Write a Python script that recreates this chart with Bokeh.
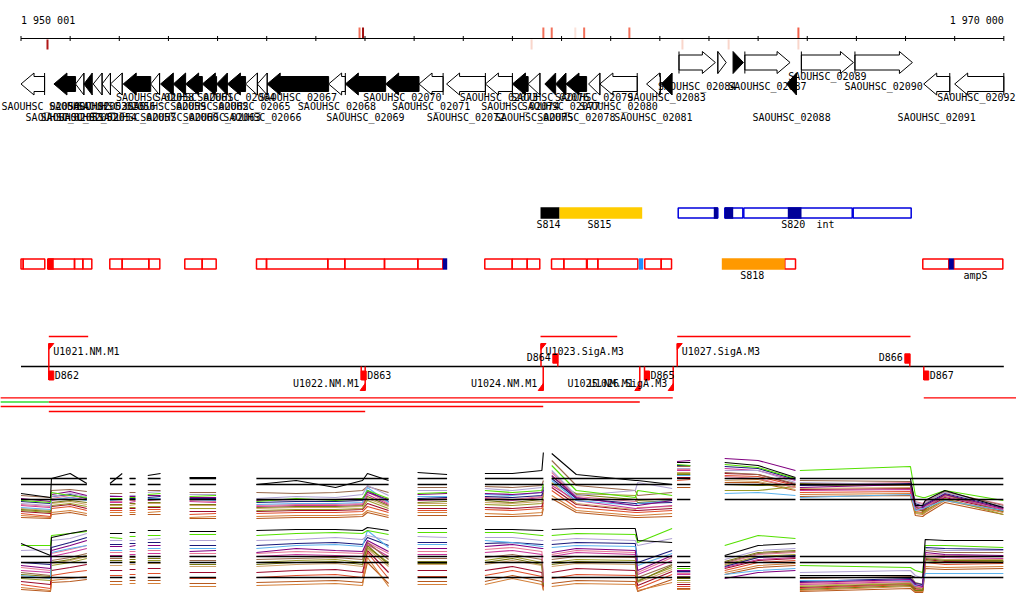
import math
from bokeh.plotting import figure
from bokeh.models import Range1d
from bokeh.core.properties import value
from bokeh.embed import file_html
from bokeh.resources import INLINE

# ---------------- data (positions in kb after 1 950 000) ----------------
ruler_ticks_kb = list(range(0, 21))
ruler_label_text = ["1 950 001", "1 970 000"]
ruler_label_kb = [0, 20]

axis_mark_kb = [0.539, 6.889, 6.960, 10.390, 10.630, 10.800, 11.280, 11.460, 12.380, 13.460, 14.400, 15.820, 15.820]
axis_mark_side = ["below", "above", "above", "below", "above", "above", "above", "above", "above", "below", "below", "above", "below"]
axis_mark_color = ["#B01818", "#F2705A", "#A01010", "#F9D6CB", "#F2705A", "#F2705A", "#FBE2DA", "#F2705A",
                   "#F2705A", "#F9D6CB", "#F9D6CB", "#F2604A", "#F9D6CB"]

gene_start_kb = [0.00, 0.67, 1.11, 1.28, 1.47, 1.65, 1.82, 2.08, 2.64, 2.84, 3.10, 3.35, 3.69, 3.98, 4.20, 4.57,
                 4.81, 5.01, 6.26, 6.60, 7.42, 8.10, 8.66, 9.45, 10.00, 10.32, 10.66, 10.88, 11.09, 11.55, 11.78,
                 12.73, 13.03, 13.39, 14.18, 14.49, 14.73, 15.58, 15.88, 16.97, 18.37, 19.00]
gene_end_kb = [0.48, 1.11, 1.28, 1.45, 1.65, 1.82, 2.06, 2.64, 2.82, 3.10, 3.35, 3.69, 3.98, 4.20, 4.57, 4.81,
               5.01, 6.26, 6.60, 7.42, 8.10, 8.59, 9.45, 10.00, 10.32, 10.56, 10.88, 11.09, 11.51, 11.78, 12.54,
               13.01, 13.25, 14.13, 14.35, 14.70, 15.65, 15.78, 16.94, 18.14, 18.90, 20.00]
gene_strand = [-1] * 33 + [1, 1, 1, 1, -1, 1, 1, -1, -1]
gene_filled = [0, 1, 0, 1, 0, 0, 0, 1, 0, 1, 1, 1, 1, 1, 1, 0, 0, 1, 0, 1, 1, 0, 0, 0, 1, 0, 1, 1, 1, 0, 0,
               0, 1, 0, 0, 1, 0, 1, 0, 0, 0, 0]
gene_label = ["SAOUHSC_02050", "SAOUHSC_02051", "SAOUHSC_02052", "SAOUHSC_02053", "SAOUHSC_02054",
              "SAOUHSC_02055", "SAOUHSC_02056", "SAOUHSC_02057", "SAOUHSC_02058", "SAOUHSC_02059",
              "SAOUHSC_02060", "SAOUHSC_02061", "SAOUHSC_02062", "SAOUHSC_02063", "SAOUHSC_02064",
              "SAOUHSC_02065", "SAOUHSC_02066", "SAOUHSC_02067", "SAOUHSC_02068", "SAOUHSC_02069",
              "SAOUHSC_02070", "SAOUHSC_02071", "SAOUHSC_02072", "SAOUHSC_02073", "SAOUHSC_02074",
              "SAOUHSC_02075", "SAOUHSC_02076", "SAOUHSC_02077", "SAOUHSC_02078", "SAOUHSC_02079",
              "SAOUHSC_02080", "SAOUHSC_02081", "SAOUHSC_02083", "SAOUHSC_02084", "", "",
              "SAOUHSC_02087", "SAOUHSC_02088", "SAOUHSC_02089", "SAOUHSC_02090", "SAOUHSC_02091",
              "SAOUHSC_02092"]
gene_label_row = [1, 2, 2, 1, 2, 1, 1, 2, 0, 1, 2, 0, 1, 2, 0, 1, 2, 0, 1, 2, 0, 1, 2, 0, 1, 2, 0, 1, 2, 0, 1,
                  2, 0, 4, 3, 3, 4, 2, 3, 4, 2, 0]

# region track 1
reg1_fill_left = [10.572, 10.959, 14.098, 14.322, 15.604]
reg1_fill_right = [10.959, 12.641, 14.180, 14.493, 15.883]
reg1_fill_color = ["#000000", "#FFCC00", "#000099", "#000099", "#000099"]
reg1_box_left = [13.374, 14.322, 14.709, 16.935]
reg1_box_right = [14.180, 14.689, 16.915, 18.115]
reg1_label = ["S814", "S815", "S820", "int"]
reg1_label_kb = [10.735, 11.772, 15.714, 16.372]

# region track 2
reg2_box_left = [0.0, 0.045, 0.545, 1.089, 1.258, 1.807, 2.059, 2.601, 3.333, 3.687, 4.792, 4.996, 6.243, 6.589,
                 7.397, 8.075, 9.438, 9.996, 10.301, 10.796, 11.046, 11.522, 11.738, 12.694, 13.028, 15.543,
                 18.351, 18.982]
reg2_box_right = [0.045, 0.484, 1.089, 1.258, 1.441, 2.059, 2.601, 2.825, 3.687, 3.972, 4.996, 6.243, 6.589,
                  7.397, 8.075, 8.584, 9.996, 10.301, 10.557, 11.046, 11.508, 11.738, 12.552, 13.028, 13.238,
                  15.761, 18.880, 19.980]
reg2_fill_left = [0.545, 8.584, 12.572, 14.261, 18.880]
reg2_fill_right = [0.667, 8.673, 12.662, 15.543, 18.982]
reg2_fill_color = ["#FF0000", "#000099", "#1E90FF", "#FF9900", "#000099"]
reg2_label = ["S818", "ampS"]
reg2_label_kb = [14.880, 19.424]

# transcription start / end features
tss_names = ["U1021.NM.M1", "D862", "D863", "U1022.NM.M1", "U1023.SigA.M3", "U1024.NM.M1", "D864",
             "U1025.NM.M1", "D865", "U1026.SigA.M3", "U1027.SigA.M3", "D866", "D867"]
tss_kb = [0.566, 0.566, 6.923, 7.004, 10.582, 10.627, 10.924, 12.592, 12.688, 13.272, 13.354, 18.087, 18.371]
tss_kind = ["U+", "D-", "D-", "U-", "U+", "U-", "D+", "U-", "D-", "U-", "U+", "D+", "D-"]
utr_span_left = [0.566, 10.572, 13.354]
utr_span_right = [1.367, 12.133, 18.101]

cov_left = [-0.42, 18.371, -0.42, 0.566, -0.42, 0.566]
cov_right = [13.264, 20.26, 0.566, 12.592, 10.627, 7.004]
cov_level = [0, 0, 1, 1, 2, 3]
cov_color = ["#FF0000", "#FF0000", "#33DD33", "#FF0000", "#FF0000", "#FF0000"]

# expression traces (signal units), sampled inside the tiled segments
trace_segments_kb = [
    [0.0, 0.6, 0.62, 1.0, 1.34],
    [1.81, 2.06],
    [2.21, 2.33],
    [2.58, 2.84],
    [3.43, 3.97],
    [4.79, 5.6, 6.4, 6.95, 7.05, 7.48],
    [8.07, 8.67],
    [9.44, 10.0, 10.6, 10.63],
    [10.80, 11.3, 12.5, 12.55, 13.25],
    [13.35, 13.62],
    [14.32, 15.0, 15.76],
    [15.85, 18.1, 18.2, 18.35, 18.4, 18.8, 19.99],
]
upper_ref_levels = [42, 36, 21]
lower_ref_levels = [36, 30, 15]

up_black = [27, 23, 42, 47, 37, 37, 47, 42, 42, 45, 47, 43, 43, 36, 40, 33, 40, 47, 40, 48, 46, 47, 47, 50, 68,
            67, 46, 40, 40, 36, 58, 58, 58, 55, 43, 42, 42, 15, 15, 20, 30, 13]
up_green = [20, 18, 28, 25, 23, 22, 22, 23, 23, 26, 27, 24, 25, 19, 22, 20, 22, 30, 22, 27, 28, 30, 28, 30, 36,
            55, 30, 23, 30, 25, 56, 55, 56, 53, 42, 50, 54, 25, 23, 23, 30, 20]
up_lavender = [17, 15, 24, 27, 24, 25, 24, 25, 25, 28, 29, 26, 26, 22, 24, 23, 26, 35, 25, 30, 30, 32, 30, 33, 37,
               50, 25, 30, 38, 32, 52, 52, 50, 50, 38, 38, 36, 18, 16, 18, 28, 14]
up_lightblue = [13, 11, 21, 23, 20, 20, 21, 21, 21, 22, 22, 21, 20, 16, 17, 17, 18, 33, 18, 24, 24, 26, 25, 28, 33,
                40, 20, 15, 17, 20, 45, 45, 27, 28, 25, 23, 26, 10, 12, 13, 20, 10]
up_purple = [22, 19, 26, 29, 25, 24, 24, 24, 24, 25, 25, 23, 23, 20, 21, 21, 22, 28, 21, 26, 27, 27, 26, 28, 34,
             45, 23, 15, 15, 20, 59, 60, 62, 60, 50, 33, 36, 14, 13, 15, 26, 12]
up_magenta = [15, 13, 20, 23, 21, 18, 18, 18, 19, 20, 21, 19, 18, 14, 15, 15, 16, 26, 16, 20, 21, 22, 20, 23, 30,
              35, 20, 12, 12, 15, 50, 50, 52, 50, 40, 30, 31, 12, 11, 13, 24, 11]
up_olive = [10, 8, 15, 17, 14, 13, 13, 13, 13, 14, 14, 12, 12, 10, 11, 11, 12, 20, 12, 15, 15, 16, 15, 17, 25,
            37, 27, 25, 20, 22, 47, 47, 30, 30, 34, 35, 35, 8, 7, 9, 22, 6]
up_brown = [25, 23, 30, 31, 29, 27, 27, 28, 28, 30, 30, 28, 28, 28, 27, 28, 30, 34, 28, 33, 33, 34, 33, 35, 40,
            60, 35, 30, 25, 28, 54, 54, 48, 46, 37, 40, 39, 16, 15, 17, 29, 15]
up_tomato = [7, 4, 12, 14, 10, 10, 10, 10, 10, 11, 11, 6, 7, 7, 8, 8, 9, 14, 8, 10, 10, 11, 10, 12, 18,
             30, 13, 8, 8, 10, 40, 41, 45, 44, 35, 28, 29, 9, 8, 10, 21, 9]
up_orange = [5, 3, 8, 10, 7, 8, 8, 8, 8, 8, 9, 3, 4, 4, 5, 5, 6, 10, 5, 8, 8, 7, 6, 8, 15,
             25, 10, 5, 5, 7, 36, 36, 42, 41, 33, 26, 27, 7, 6, 8, 20, 8]
up_darkred = [9, 7, 14, 16, 12, 12, 12, 12, 12, 13, 13, 9, 9, 9, 10, 10, 11, 17, 10, 12, 12, 13, 12, 14, 21,
              33, 16, 10, 10, 12, 43, 43, 47, 46, 36, 31, 32, 11, 10, 12, 23, 10]
up_navy = [19, 17, 24, 26, 22, 21, 21, 22, 22, 23, 24, 22, 22, 18, 19, 19, 20, 30, 19, 22, 23, 24, 23, 25, 31,
           42, 22, 17, 17, 18, 55, 55, 54, 52, 41, 35, 37, 17, 14, 16, 27, 13]
up_tan = [12, 10, 17, 19, 16, 15, 15, 15, 16, 17, 17, 15, 15, 12, 13, 13, 14, 22, 14, 17, 17, 18, 17, 19, 27,
          38, 17, 11, 13, 14, 48, 48, 40, 39, 31, 32, 33, 13, 12, 14, 25, 12]
up_pink = [16, 14, 22, 25, 22, 19, 19, 20, 20, 21, 22, 20, 19, 15, 16, 16, 17, 29, 17, 21, 22, 23, 21, 24, 32,
           48, 24, 19, 21, 22, 51, 51, 44, 42, 33, 36, 38, 19, 17, 19, 28, 16]
up_sienna = [3, 2, 6, 8, 5, 5, 5, 6, 6, 6, 6, 2, 2, 2, 3, 3, 4, 8, 3, 5, 5, 4, 4, 5, 12,
             22, 8, 3, 3, 4, 33, 33, 38, 38, 30, 24, 25, 5, 4, 6, 18, 6]
up_olive2 = [11, 9, 18, 20, 18, 16, 16, 17, 17, 18, 18, 16, 16, 13, 14, 14, 15, 24, 15, 18, 19, 20, 18, 21, 28,
             44, 26, 21, 18, 20, 46, 46, 36, 35, 36, 37, 36, 14, 9, 11, 26, 9]

lo_black = [49, 37, 55, 59, 62, 59, 59, 60, 60, 62, 62, 61, 61, 62, 63, 63, 62, 65, 62, 64, 64, 63, 63, 62, 62,
            63, 64, 64, 52, 50, 26, 26, 37, 47, 49, 17, 17, 15, 15, 53, 52, 52]
lo_green = [47, 47, 57, 59, 61, 55, 54, 56, 56, 57, 57, 58, 58, 57, 59, 60, 59, 62, 58, 60, 60, 60, 60, 57, 57,
            57, 59, 58, 50, 64, 24, 24, 47, 57, 54, 27, 25, 22, 20, 47, 47, 45]
lo_lavender = [42, 43, 52, 54, 59, 52, 52, 52, 52, 53, 54, 52, 52, 52, 53, 55, 53, 57, 52, 56, 55, 55, 55, 52, 52,
               52, 54, 52, 47, 54, 20, 20, 33, 42, 44, 20, 22, 17, 14, 44, 42, 42]
lo_lightblue = [17, 14, 40, 44, 47, 42, 42, 43, 43, 44, 44, 44, 44, 44, 47, 48, 46, 62, 45, 48, 48, 52, 50, 46, 46,
                45, 47, 46, 27, 39, 15, 15, 18, 22, 24, 12, 12, 7, 7, 19, 19, 19]
lo_purple = [27, 24, 42, 47, 52, 46, 46, 46, 47, 47, 47, 41, 42, 40, 44, 42, 41, 52, 41, 44, 44, 46, 48, 44, 44,
             40, 44, 42, 22, 37, 22, 22, 14, 20, 22, 10, 13, 8, 6, 40, 38, 37]
lo_magenta = [22, 20, 36, 40, 44, 37, 37, 38, 38, 39, 39, 36, 36, 36, 38, 37, 36, 48, 36, 38, 38, 40, 42, 38, 10,
              36, 40, 38, 18, 32, 18, 18, 25, 33, 35, 8, 11, 6, 5, 36, 35, 34]
lo_olive = [14, 12, 27, 30, 34, 30, 30, 31, 31, 32, 32, 30, 30, 30, 32, 33, 30, 45, 30, 31, 31, 32, 36, 30, 8,
            30, 33, 32, 12, 25, 12, 12, 28, 36, 38, 6, 9, 5, 3, 32, 30, 31]
lo_brown = [20, 17, 32, 35, 39, 34, 34, 35, 35, 36, 36, 32, 32, 33, 34, 35, 33, 50, 33, 34, 34, 35, 38, 33, 12,
            33, 36, 35, 15, 28, 16, 16, 30, 39, 41, 14, 16, 10, 8, 42, 40, 40]
lo_tomato = [8, 4, 17, 20, 22, 17, 17, 18, 18, 19, 19, 14, 14, 15, 17, 18, 15, 40, 14, 16, 16, 17, 22, 16, 5,
             14, 18, 17, 4, 18, 6, 6, 22, 30, 32, 4, 8, 3, 2, 30, 28, 29]
lo_orange = [5, 2, 12, 14, 16, 8, 8, 9, 9, 9, 9, 6, 6, 7, 8, 9, 7, 35, 6, 8, 8, 8, 14, 8, 3,
             6, 9, 8, 2, 10, 3, 3, 20, 27, 29, 2, 6, 1, 1, 26, 25, 26]
lo_darkred = [11, 8, 22, 25, 28, 22, 22, 23, 23, 24, 24, 20, 20, 20, 22, 23, 20, 42, 20, 22, 22, 22, 26, 20, 6,
              20, 24, 22, 7, 21, 8, 8, 24, 32, 34, 5, 9, 4, 3, 33, 31, 31]
lo_navy = [30, 28, 45, 50, 55, 48, 48, 49, 49, 50, 50, 47, 47, 47, 49, 50, 48, 55, 47, 50, 50, 49, 50, 48, 48,
           48, 50, 49, 30, 42, 21, 21, 26, 35, 37, 11, 14, 9, 8, 45, 44, 43]
lo_tan = [16, 14, 29, 32, 36, 27, 27, 28, 28, 29, 29, 26, 26, 26, 28, 29, 26, 44, 26, 28, 28, 28, 32, 27, 9,
          26, 29, 28, 10, 23, 10, 10, 27, 35, 37, 7, 10, 6, 4, 35, 33, 33]
lo_pink = [25, 22, 39, 43, 47, 40, 40, 41, 41, 42, 42, 39, 39, 39, 41, 40, 39, 50, 39, 41, 41, 43, 45, 41, 14,
           38, 42, 40, 20, 35, 19, 19, 29, 38, 40, 9, 12, 7, 6, 38, 37, 36]
lo_sienna = [3, 1, 10, 11, 13, 11, 11, 12, 12, 12, 12, 9, 9, 10, 11, 12, 10, 30, 9, 11, 11, 11, 17, 11, 2,
             9, 12, 11, 1, 13, 4, 4, 18, 25, 27, 1, 4, 0, 0, 24, 23, 24]
lo_olive2 = [18, 16, 30, 33, 37, 32, 32, 33, 33, 34, 34, 28, 28, 28, 30, 31, 28, 47, 28, 29, 29, 30, 34, 28, 7,
             28, 31, 30, 11, 27, 14, 14, 31, 40, 42, 3, 7, 2, 2, 34, 32, 32]

series_colors = ["#B85A1E", "#D4803A", "#E0502C", "#9C0A2A", "#CFA46A", "#9C9C2A", "#7A7A10", "#C8379A",
                 "#E87896", "#98684A", "#1A1A7A", "#5DB4EE", "#B0A3D4", "#800080", "#55E000", "#000000"]
upper_series = [up_sienna, up_orange, up_tomato, up_darkred, up_tan, up_olive, up_olive2, up_magenta, up_pink,
                up_brown, up_navy, up_lightblue, up_lavender, up_purple, up_green, up_black]
lower_series = [lo_sienna, lo_orange, lo_tomato, lo_darkred, lo_tan, lo_olive, lo_olive2, lo_magenta, lo_pink,
                lo_brown, lo_navy, lo_lightblue, lo_lavender, lo_purple, lo_green, lo_black]

# ---------------- figure ----------------
FONT = value("DejaVu Sans Mono")
W, H = 1016, 603
X0, X1 = -0.4172, 20.258
PX = (X1 - X0) / W
CHAR_PX = 6.02

p = figure(width=W, height=H, x_range=Range1d(X0, X1), y_range=Range1d(H, 0),
           output_backend="svg", toolbar_location=None, min_border=0,
           x_axis_location=None, y_axis_location=None)
p.xgrid.grid_line_color = None
p.ygrid.grid_line_color = None
p.outline_line_color = None
p.background_fill_color = "white"
p.border_fill_color = "white"


def txt(x, y, t, align="center", size="10px"):
    p.text(x=x, y=y, text=t, text_align=align, text_baseline="middle",
           text_font=FONT, text_font_size=size, text_color="black")


# ruler
p.segment(x0=[ruler_ticks_kb[0]], y0=[38], x1=[ruler_ticks_kb[-1]], y1=[38], line_color="black", line_width=1)
p.segment(x0=ruler_ticks_kb, y0=[35.5] * len(ruler_ticks_kb), x1=ruler_ticks_kb, y1=[40.5] * len(ruler_ticks_kb),
          line_color="black", line_width=1)
txt([ruler_label_kb[0]], [20], [ruler_label_text[0]], "left")
txt([ruler_label_kb[1]], [20], [ruler_label_text[1]], "right")
my0 = [27 if s == "above" else 39 for s in axis_mark_side]
my1 = [37.5 if s == "above" else 49 for s in axis_mark_side]
p.segment(x0=axis_mark_kb, y0=my0, x1=axis_mark_kb, y1=my1, line_color=axis_mark_color, line_width=2)

# genes
HEAD = 13 * PX
gx, gy, gfill = [], [], []
bx, by0, by1 = [], [], []
lx, ly, lt = [], [], []
row_y = [97, 105.5, 117, 76, 85.5]
for s, e, st, f, lab, r in zip(gene_start_kb, gene_end_kb, gene_strand, gene_filled, gene_label, gene_label_row):
    if st < 0:
        yt, yb, bt, bb = 72.5, 94.5, 76, 91
    else:
        yt, yb, bt, bb = 51, 73, 54.5, 69.5
    yc = (yt + yb) / 2
    L = e - s
    if st < 0:
        if L > HEAD:
            xs = [s, s + HEAD, s + HEAD, e, e, s + HEAD, s + HEAD]
            ys = [yc, yt, bt, bt, bb, bb, yb]
        else:
            xs = [s, e, e]
            ys = [yc, yt, yb]
        back = e
    else:
        if L > HEAD:
            xs = [e, e - HEAD, e - HEAD, s, s, e - HEAD, e - HEAD]
            ys = [yc, yt, bt, bt, bb, bb, yb]
        else:
            xs = [e, s, s]
            ys = [yc, yt, yb]
        back = s
    gx.append(xs)
    gy.append(ys)
    gfill.append("black" if f else "white")
    if not f:
        bx.append(back)
        by0.append(yt)
        by1.append(yb)
    if lab:
        hw = (len(lab) * CHAR_PX / 2 + 1) * PX
        c = min(max((s + e) / 2, X0 + hw), X1 - hw)
        lx.append(c)
        ly.append(row_y[r])
        lt.append(lab)
p.patches(gx, gy, fill_color=gfill, line_color="black", line_width=1)
p.segment(x0=bx, y0=by0, x1=bx, y1=by1, line_color="black", line_width=1)
txt(lx, ly, lt)

# region track 1
n = len(reg1_box_left)
p.quad(left=reg1_box_left, right=reg1_box_right, top=[207.5] * n, bottom=[217.5] * n,
       fill_color=None, line_color="#0000DD", line_width=1.5)
n = len(reg1_fill_left)
p.quad(left=reg1_fill_left, right=reg1_fill_right, top=[206.8] * n, bottom=[218.2] * n,
       fill_color=reg1_fill_color, line_color=None)
txt(reg1_label_kb, [224] * len(reg1_label_kb), reg1_label)

# region track 2
n = len(reg2_box_left)
p.quad(left=reg2_box_left, right=reg2_box_right, top=[258.5] * n, bottom=[268.5] * n,
       fill_color=None, line_color="#FF0000", line_width=1.5)
n = len(reg2_fill_left)
p.quad(left=reg2_fill_left, right=reg2_fill_right, top=[257.8] * n, bottom=[269.2] * n,
       fill_color=reg2_fill_color, line_color=None)
txt(reg2_label_kb, [275] * len(reg2_label_kb), reg2_label)

# transcription features
p.segment(x0=utr_span_left, y0=[336] * 3, x1=utr_span_right, y1=[336] * 3, line_color="#FF0000", line_width=1.5)
p.segment(x0=[0], y0=[366], x1=[20], y1=[366], line_color="black", line_width=1.5)
sx0, sy0, sy1 = [], [], []
tx, ty = [], []
rl, rr, rt, rb = [], [], [], []
lab_x, lab_y, lab_t, lab_a = [], [], [], []
for name, x, kind in zip(tss_names, tss_kb, tss_kind):
    if kind == "U+":
        sx0.append(x); sy0.append(366); sy1.append(343)
        tx.append([x, x + 5 * PX, x]); ty.append([343, 343, 349])
        lab_x.append(x + 4.5 * PX); lab_y.append(350.7); lab_t.append(name); lab_a.append("left")
    elif kind == "U-":
        sx0.append(x); sy0.append(366); sy1.append(390)
        tx.append([x, x - 5 * PX, x]); ty.append([390, 390, 383])
        lab_x.append(x - 6 * PX); lab_y.append(383.3); lab_t.append(name); lab_a.append("right")
    elif kind == "D-":
        sx0.append(x); sy0.append(366); sy1.append(379.5)
        rl.append(x); rr.append(x + 5 * PX); rt.append(370.5); rb.append(379.5)
        lab_x.append(x + 6 * PX); lab_y.append(375); lab_t.append(name); lab_a.append("left")
    else:
        sx0.append(x); sy0.append(353.3); sy1.append(366)
        rl.append(x - 5 * PX); rr.append(x); rt.append(353.3); rb.append(362.7)
        lab_x.append(x - 7 * PX); lab_y.append(356.7); lab_t.append(name); lab_a.append("right")
p.segment(x0=sx0, y0=sy0, x1=sx0, y1=sy1, line_color="#FF0000", line_width=1.5)
p.patches(tx, ty, fill_color="#FF0000", line_color="#FF0000", line_width=1)
p.quad(left=rl, right=rr, top=rt, bottom=rb, fill_color="#FF0000", line_color="#FF0000", line_width=1)
for x, y, t, a in zip(lab_x, lab_y, lab_t, lab_a):
    txt([x], [y], [t], a)

cov_y_levels = [397.3, 401.5, 406, 411]
cy = [cov_y_levels[k] for k in cov_level]
p.segment(x0=cov_left, y0=cy, x1=cov_right, y1=cy, line_color=cov_color, line_width=1.3)


# expression panels
def build(values, base):
    xs, ys = [], []
    i = 0
    for seg in trace_segments_kb:
        for x in seg:
            xs.append(x)
            ys.append(base - values[i])
            i += 1
        xs.append(float("nan"))
        ys.append(float("nan"))
    return xs, ys


for series, base, refs in ((upper_series, 520, upper_ref_levels), (lower_series, 592, lower_ref_levels)):
    for vals, col in zip(series, series_colors):
        xs, ys = build(vals, base)
        p.line(xs, ys, line_color=col, line_width=1.1)
    for lev in refs:
        p.segment(x0=[sg[0] for sg in trace_segments_kb], y0=[base - lev] * len(trace_segments_kb),
                  x1=[sg[-1] for sg in trace_segments_kb], y1=[base - lev] * len(trace_segments_kb),
                  line_color="black", line_width=1.5)

open("out.html", "w").write(file_html(p, INLINE))
